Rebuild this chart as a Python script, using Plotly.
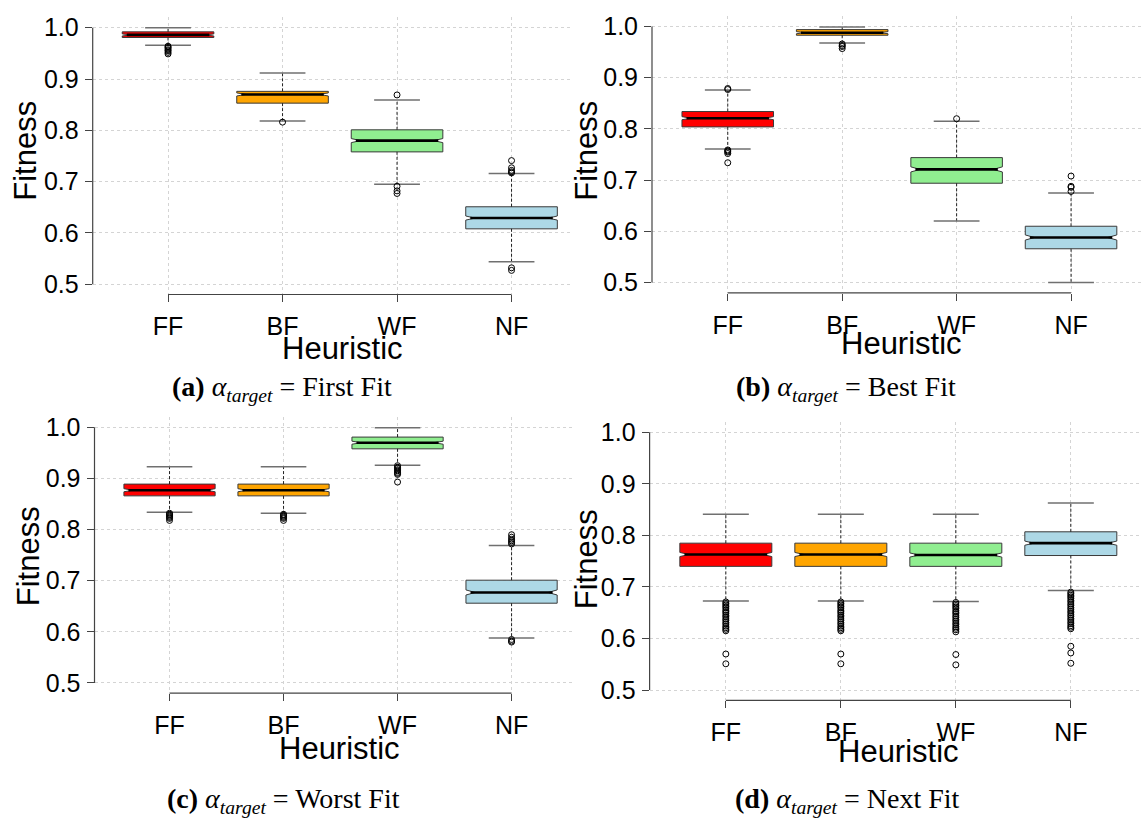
import plotly.graph_objects as go

W, H = 1142, 820

heuristics = ["FF", "BF", "WF", "NF"]
fill_colors = ["#FF0000", "#FFA500", "#90EE90", "#ADD8E6"]
y_ticks = [0.5, 0.6, 0.7, 0.8, 0.9, 1.0]

# ---- panel (a): alpha_target = First Fit
a_q1 = [0.981, 0.853, 0.758, 0.608]
a_med = [0.986, 0.870, 0.780, 0.629]
a_q3 = [0.992, 0.876, 0.801, 0.651]
a_low = [0.966, 0.818, 0.695, 0.544]
a_high = [1.000, 0.912, 0.859, 0.716]
a_notch = [0.002, 0.003, 0.004, 0.004]
a_out_ff = [0.964, 0.962, 0.960, 0.957, 0.955, 0.952, 0.949]
a_out_bf = [0.816]
a_out_wf = [0.869, 0.691, 0.682, 0.677]
a_out_nf = [0.741, 0.727, 0.722, 0.719, 0.717, 0.532, 0.527]

# ---- panel (b): alpha_target = Best Fit
b_q1 = [0.804, 0.983, 0.694, 0.566]
b_med = [0.821, 0.988, 0.721, 0.588]
b_q3 = [0.834, 0.994, 0.744, 0.610]
b_low = [0.761, 0.968, 0.620, 0.500]
b_high = [0.876, 0.999, 0.815, 0.675]
b_notch = [0.003, 0.002, 0.005, 0.005]
b_out_ff = [0.879, 0.877, 0.759, 0.757, 0.755, 0.752, 0.734]
b_out_bf = [0.966, 0.963, 0.961, 0.957]
b_out_wf = [0.820]
b_out_nf = [0.708, 0.688, 0.686, 0.678]

# ---- panel (c): alpha_target = Worst Fit
c_q1 = [0.866, 0.866, 0.958, 0.656]
c_med = [0.877, 0.877, 0.970, 0.677]
c_q3 = [0.889, 0.889, 0.981, 0.701]
c_low = [0.834, 0.832, 0.926, 0.588]
c_high = [0.923, 0.923, 0.999, 0.769]
c_notch = [0.003, 0.003, 0.003, 0.005]
c_out_ff = [0.832, 0.830, 0.828, 0.826, 0.824, 0.822, 0.818]
c_out_bf = [0.830, 0.828, 0.826, 0.824, 0.822, 0.818]
c_out_wf = [0.925, 0.922, 0.920, 0.917, 0.915, 0.912, 0.910, 0.908, 0.893]
c_out_nf = [0.790, 0.785, 0.781, 0.778, 0.775, 0.772, 0.585, 0.582, 0.580]

# ---- panel (d): alpha_target = Next Fit
d_q1 = [0.740, 0.740, 0.740, 0.761]
d_med = [0.763, 0.763, 0.762, 0.785]
d_q3 = [0.785, 0.785, 0.785, 0.807]
d_low = [0.673, 0.673, 0.672, 0.693]
d_high = [0.841, 0.841, 0.841, 0.863]
d_notch = [0.004, 0.004, 0.004, 0.004]
d_out_ff = [0.671, 0.668, 0.665, 0.662, 0.659, 0.655, 0.652, 0.649, 0.645, 0.642,
            0.638, 0.635, 0.631, 0.628, 0.624, 0.621, 0.618, 0.615, 0.570, 0.551]
d_out_bf = [0.671, 0.668, 0.665, 0.662, 0.659, 0.655, 0.652, 0.649, 0.645, 0.642,
            0.638, 0.635, 0.631, 0.628, 0.624, 0.621, 0.618, 0.615, 0.570, 0.551]
d_out_wf = [0.670, 0.667, 0.664, 0.661, 0.658, 0.654, 0.651, 0.648, 0.644, 0.641,
            0.637, 0.634, 0.630, 0.627, 0.623, 0.620, 0.617, 0.613, 0.569, 0.549]
d_out_nf = [0.690, 0.687, 0.684, 0.681, 0.678, 0.674, 0.671, 0.667, 0.664, 0.660,
            0.657, 0.653, 0.650, 0.646, 0.643, 0.639, 0.636, 0.632, 0.629, 0.625,
            0.622, 0.619, 0.585, 0.572, 0.552]

captions = ["<b>(a)</b> <i>α<sub>target</sub></i> = First Fit",
            "<b>(b)</b> <i>α<sub>target</sub></i> = Best Fit",
            "<b>(c)</b> <i>α<sub>target</sub></i> = Worst Fit",
            "<b>(d)</b> <i>α<sub>target</sub></i> = Next Fit"]

panels = [
    dict(q1=a_q1, med=a_med, q3=a_q3, lo=a_low, hi=a_high, notch=a_notch,
         out=[a_out_ff, a_out_bf, a_out_wf, a_out_nf]),
    dict(q1=b_q1, med=b_med, q3=b_q3, lo=b_low, hi=b_high, notch=b_notch,
         out=[b_out_ff, b_out_bf, b_out_wf, b_out_nf]),
    dict(q1=c_q1, med=c_med, q3=c_q3, lo=c_low, hi=c_high, notch=c_notch,
         out=[c_out_ff, c_out_bf, c_out_wf, c_out_nf]),
    dict(q1=d_q1, med=d_med, q3=d_q3, lo=d_low, hi=d_high, notch=d_notch,
         out=[d_out_ff, d_out_bf, d_out_wf, d_out_nf]),
]

# ---- layout geometry (pixels)
# (x_left_px, x_right_px, y_top_px, y_bottom_px, x_range_lo, x_range_hi)
geom = [
    (92.7, 572.0, 13.6, 293.0, 0.342, 4.528),
    (652.0, 1142.0, 12.4, 291.3, 0.338, 4.620),
    (94.5, 572.0, 416.7, 695.1, 0.342, 4.530),
    (649.6, 1142.0, 421.6, 702.4, 0.337, 4.619),
]
# label positions (pixels): fitness (x,y), heuristic (x,y), caption (x,y)
label_pos = [
    ((26, 148), (342, 347), (282, 388)),
    ((587, 148), (901, 342), (846, 388)),
    ((28, 557), (339, 751), (283, 803)),
    ((586, 560), (898, 754), (848, 803)),
]

BOX_W = 0.8
NOTCH_W = 0.1
CAP_W = 0.4
pos = [1, 2, 3, 4]

fig = go.Figure()
layout = dict(width=W, height=H, margin=dict(l=0, r=0, t=0, b=0),
              paper_bgcolor="white", plot_bgcolor="white", showlegend=False,
              boxmode="overlay", shapes=[], annotations=[])

sans = "Liberation Sans, Arial, Helvetica, sans-serif"
serif = "Liberation Serif, Times New Roman, serif"

for p, (pan, g, lp) in enumerate(zip(panels, geom, label_pos)):
    sfx = "" if p == 0 else str(p + 1)
    xa, ya = "x" + sfx, "y" + sfx
    for i in range(4):
        xi = pos[i]
        # notched box (R-style whiskers are drawn separately below)
        fig.add_trace(go.Box(
            x=[xi], q1=[pan["q1"][i]], median=[pan["med"][i]], q3=[pan["q3"][i]],
            lowerfence=[pan["q1"][i]], upperfence=[pan["q3"][i]],
            notchspan=[pan["notch"][i]], notched=True, notchwidth=NOTCH_W,
            width=BOX_W, whiskerwidth=0, fillcolor=fill_colors[i],
            line=dict(color="#3a3a3a", width=1), boxpoints=False,
            xaxis=xa, yaxis=ya, hoverinfo="skip"))
        # dashed whiskers
        fig.add_trace(go.Scatter(
            x=[xi, xi, None, xi, xi],
            y=[pan["q3"][i], pan["hi"][i], None, pan["q1"][i], pan["lo"][i]],
            mode="lines", line=dict(color="#222", width=1, dash="3px,2px"),
            xaxis=xa, yaxis=ya, hoverinfo="skip"))
        # whisker caps (staples)
        fig.add_trace(go.Scatter(
            x=[xi - CAP_W / 2, xi + CAP_W / 2, None, xi - CAP_W / 2, xi + CAP_W / 2],
            y=[pan["hi"][i], pan["hi"][i], None, pan["lo"][i], pan["lo"][i]],
            mode="lines", line=dict(color="#707070", width=1.5),
            xaxis=xa, yaxis=ya, hoverinfo="skip"))
        # thick median line like R's medlwd
        hw = BOX_W / 2 * (1 - NOTCH_W)
        fig.add_trace(go.Scatter(
            x=[xi - hw, xi + hw], y=[pan["med"][i], pan["med"][i]],
            mode="lines", line=dict(color="black", width=2.6),
            xaxis=xa, yaxis=ya, hoverinfo="skip"))
        # outliers
        outs = pan["out"][i]
        fig.add_trace(go.Scatter(
            x=[xi] * len(outs), y=outs, mode="markers",
            marker=dict(symbol="circle-open", size=6, color="black",
                        line=dict(width=1, color="black")),
            xaxis=xa, yaxis=ya, hoverinfo="skip"))

    x0, x1, yt, yb, rlo, rhi = g
    grid = dict(showgrid=True, gridcolor="#d4d4d4", griddash="dot", gridwidth=1,
                zeroline=False, showline=False)
    layout["xaxis" + sfx] = dict(
        domain=[x0 / W, x1 / W], range=[rlo, rhi], anchor=ya,
        tickvals=pos, ticktext=heuristics, ticks="outside", ticklen=7,
        tickcolor="#444", tickwidth=1,
        tickfont=dict(family=sans, size=25, color="black"),
        ticklabelstandoff=3, **grid)
    layout["yaxis" + sfx] = dict(
        domain=[1 - yb / H, 1 - yt / H], range=[0.48, 1.02], anchor=xa,
        tickvals=y_ticks, tickformat=".1f", ticks="outside", ticklen=7,
        tickcolor="#444", tickwidth=1,
        tickfont=dict(family=sans, size=25, color="black"),
        ticklabelstandoff=1, **grid)
    # R-style partial axis lines
    layout["shapes"].append(dict(type="line", xref=xa + " domain", yref=ya,
                                 x0=0, x1=0, y0=min(y_ticks), y1=max(y_ticks),
                                 line=dict(color="#444", width=1.2)))
    layout["shapes"].append(dict(type="line", xref=xa, yref=ya + " domain",
                                 x0=min(pos), x1=max(pos), y0=0, y1=0,
                                 line=dict(color="#444", width=1.2)))
    (fx, fy), (hx, hy), (cx, cy) = lp
    layout["annotations"].append(dict(
        text="Fitness", x=fx / W, y=1 - fy / H, xref="paper", yref="paper",
        showarrow=False, textangle=-90, xanchor="center", yanchor="middle",
        font=dict(family=sans, size=31, color="black")))
    layout["annotations"].append(dict(
        text="Heuristic", x=hx / W, y=1 - hy / H, xref="paper", yref="paper",
        showarrow=False, xanchor="center", yanchor="middle",
        font=dict(family=sans, size=31, color="black")))
    layout["annotations"].append(dict(
        text=captions[p], x=cx / W, y=1 - cy / H, xref="paper", yref="paper",
        showarrow=False, xanchor="center", yanchor="middle",
        font=dict(family=serif, size=28, color="black")))

fig.update_layout(**layout)
fig.write_html("out.html")
